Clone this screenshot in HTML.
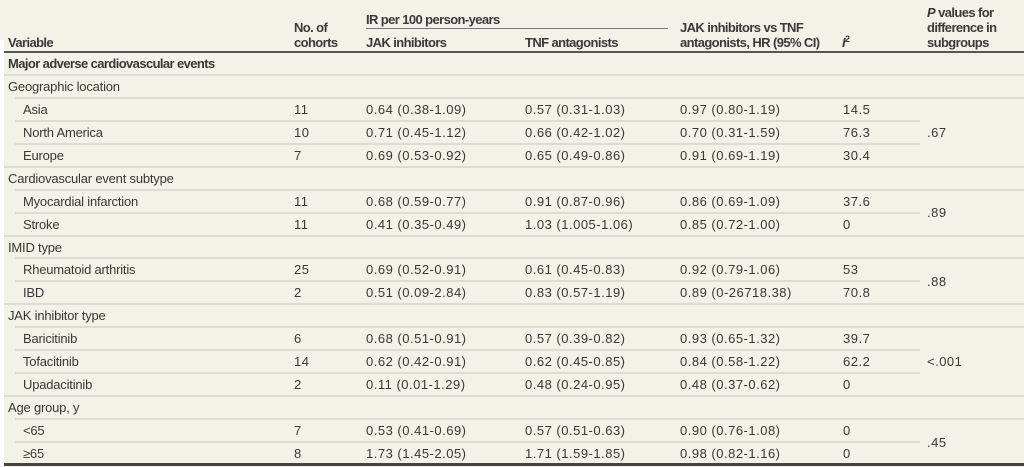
<!DOCTYPE html>
<html><head><meta charset="utf-8"><style>
html,body{margin:0;padding:0;}
body{width:1024px;height:467px;background:#f2f2e8;position:relative;overflow:hidden;font-family:"Liberation Sans",sans-serif;font-size:13px;color:#383838;letter-spacing:-0.6px;}
.strip{position:absolute;left:0;top:40px;width:4px;height:427px;background:#fff;}
.t{position:absolute;white-space:nowrap;line-height:15px;}
.lab{letter-spacing:-0.2px;}
.num{letter-spacing:0.5px;}
.b{font-weight:bold;letter-spacing:-0.6px;}
.h{font-weight:bold;color:#3a3a3a;}
.l{position:absolute;height:2px;background:#dcdccf;}
.dk{position:absolute;background:#555;}
</style></head><body>
<div class="strip"></div>
<div class="t h" style="left:8px;top:35px">Variable</div>
<div class="t h" style="left:294px;top:20px">No. of</div>
<div class="t h" style="left:294px;top:35px">cohorts</div>
<div class="t h" style="left:366px;top:12px">IR per 100 person-years</div>
<div class="dk" style="left:366px;top:28px;width:302px;height:1px;background:#777"></div>
<div class="t h" style="left:366px;top:35px">JAK inhibitors</div>
<div class="t h" style="left:525px;top:35px">TNF antagonists</div>
<div class="t h" style="left:680px;top:20px">JAK inhibitors vs TNF</div>
<div class="t h" style="left:680px;top:35px">antagonists, HR (95% CI)</div>
<div class="t h" style="left:842px;top:35px"><i>I</i><sup style="font-size:9px;vertical-align:5px;line-height:0">2</sup></div>
<div class="t h" style="left:927px;top:5px"><i>P</i> values for</div>
<div class="t h" style="left:927px;top:20px">difference in</div>
<div class="t h" style="left:927px;top:35px">subgroups</div>
<div class="dk" style="left:4px;top:51px;width:1020px;height:2px"></div>
<div class="dk" style="left:4px;top:463px;width:1020px;height:3px;background:#444"></div>
<div id="rows"></div>
<script>
(function(){
var rows=[
["s","Major adverse cardiovascular events",1],
["s","Geographic location"],
["r","Asia","11","0.64 (0.38-1.09)","0.57 (0.31-1.03)","0.97 (0.80-1.19)","14.5"],
["r","North America","10","0.71 (0.45-1.12)","0.66 (0.42-1.02)","0.70 (0.31-1.59)","76.3",".67"],
["r","Europe","7","0.69 (0.53-0.92)","0.65 (0.49-0.86)","0.91 (0.69-1.19)","30.4"],
["s","Cardiovascular event subtype"],
["r","Myocardial infarction","11","0.68 (0.59-0.77)","0.91 (0.87-0.96)","0.86 (0.69-1.09)","37.6"],
["r","Stroke","11","0.41 (0.35-0.49)","1.03 (1.005-1.06)","0.85 (0.72-1.00)","0",".89"],
["s","IMID type"],
["r","Rheumatoid arthritis","25","0.69 (0.52-0.91)","0.61 (0.45-0.83)","0.92 (0.79-1.06)","53"],
["r","IBD","2","0.51 (0.09-2.84)","0.83 (0.57-1.19)","0.89 (0-26718.38)","70.8",".88"],
["s","JAK inhibitor type"],
["r","Baricitinib","6","0.68 (0.51-0.91)","0.57 (0.39-0.82)","0.93 (0.65-1.32)","39.7"],
["r","Tofacitinib","14","0.62 (0.42-0.91)","0.62 (0.45-0.85)","0.84 (0.58-1.22)","62.2","<.001"],
["r","Upadacitinib","2","0.11 (0.01-1.29)","0.48 (0.24-0.95)","0.48 (0.37-0.62)","0"],
["s","Age group, y"],
["r","<65","7","0.53 (0.41-0.69)","0.57 (0.51-0.63)","0.90 (0.76-1.08)","0"],
["r","≥65","8","1.73 (1.45-2.05)","1.71 (1.59-1.85)","0.98 (0.82-1.16)","0",".45"]
];
var h="",y0=52,p=22.94;
var xs=[23,294,366,525,680,843];
function esc(s){return s.replace(/&/g,"&amp;").replace(/</g,"&lt;");}
for(var i=0;i<rows.length;i++){
 var r=rows[i],y=y0+i*p,ty=y+4;
 if(r[0]=="s"){
  h+='<div class="t '+(r[2]?'b':'lab')+'" style="left:8px;top:'+ty+'px">'+esc(r[1])+'</div>';
 } else {
  for(var k=1;k<=6;k++) h+='<div class="t '+(k==1?'lab':'num')+'" style="left:'+xs[k-1]+'px;top:'+ty+'px">'+esc(r[k])+'</div>';
  if(r[7]){var py=(r[7]==".89"||r[7]==".88"||r[7]==".45")?y-p/2+4:ty;h+='<div class="t num" style="left:927px;top:'+py+'px">'+esc(r[7])+'</div>';}
 }
 if(i<rows.length-1){
  var nx=rows[i+1],ly=Math.round(y+p)-1;
  var lx=nx[0]=="s"?4:15;
  var w=1024-lx;
  if(r[0]=="r"&&nx[0]=="r") w=920-lx;
  h+='<div class="l" style="left:'+lx+'px;top:'+ly+'px;width:'+w+'px"></div>';
 }
}
document.getElementById("rows").innerHTML=h;
})();
</script>
</body></html>
